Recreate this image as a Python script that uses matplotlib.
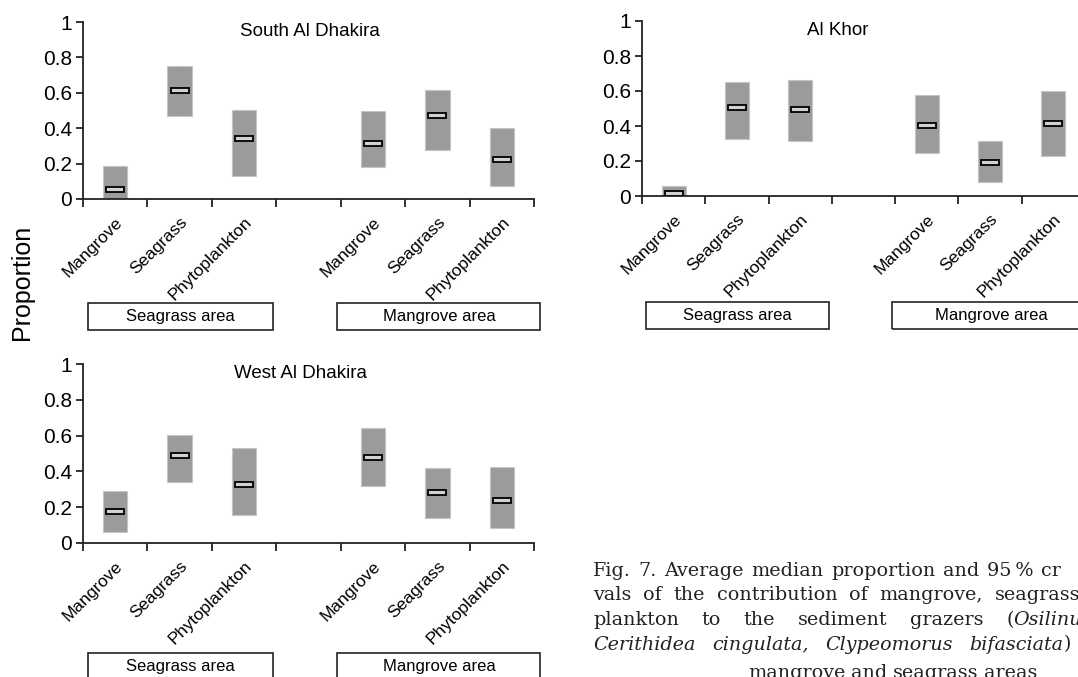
import matplotlib
matplotlib.use("Agg")
import matplotlib.pyplot as plt
import matplotlib.patches as patches
import matplotlib.transforms as mtransforms
import numpy as np

plt.rcParams["font.family"] = ["Liberation Sans", "DejaVu Sans"]

# sources of organic matter, grouped by the area the grazers were taken from
sources = ["Mangrove", "Seagrass", "Phytoplankton"]
areas = ["Seagrass area", "Mangrove area"]
sites = ["South Al Dhakira", "Al Khor", "West Al Dhakira"]

# order: seagrass area (mangrove, seagrass, phyto), mangrove area (same)
south_median = [0.053, 0.614, 0.341, 0.313, 0.473, 0.221]
south_low = [0.0, 0.467, 0.128, 0.180, 0.276, 0.071]
south_high = [0.184, 0.749, 0.501, 0.497, 0.617, 0.400]

khor_median = [0.015, 0.508, 0.492, 0.403, 0.190, 0.414]
khor_low = [0.0, 0.323, 0.312, 0.247, 0.080, 0.228]
khor_high = [0.059, 0.652, 0.663, 0.576, 0.316, 0.601]

west_median = [0.178, 0.488, 0.329, 0.480, 0.280, 0.237]
west_low = [0.064, 0.342, 0.157, 0.320, 0.138, 0.084]
west_high = [0.288, 0.604, 0.529, 0.643, 0.421, 0.424]

y_ticks = [0, 0.2, 0.4, 0.6, 0.8, 1.0]
y_labels = ["0", "0.2", "0.4", "0.6", "0.8", "1"]

W, H = 1078, 677
fig = plt.figure(figsize=(W / 100, H / 100), dpi=100)


def px_rect(left, top, right, bottom):
    return [left / W, 1 - bottom / H, (right - left) / W, (bottom - top) / H]


# slot 3 is left empty between the two areas
slots = [0.5, 1.5, 2.5, 4.5, 5.5, 6.5]
area_spans = [(0.07, 2.95), (3.95, 7.1)]

panels = [
    (sites[0], south_median, south_low, south_high, px_rect(83, 22, 534, 199), 0.503, -0.585),
    (sites[1], khor_median, khor_low, khor_high, px_rect(642, 21, 1085, 196), 0.442, -0.605),
    (sites[2], west_median, west_low, west_high, px_rect(83, 364, 534, 543), 0.483, -0.615),
]

for title, med, low, high, rect, title_x, box_top in panels:
    ax = fig.add_axes(rect)
    ax.set_xlim(0, 7)
    ax.set_ylim(0, 1)
    for side in ["top", "right"]:
        ax.spines[side].set_visible(False)
    for side in ["left", "bottom"]:
        ax.spines[side].set_linewidth(1.3)
        ax.spines[side].set_color("#222222")

    med = np.array(med)
    low = np.array(low)
    high = np.array(high)
    ax.bar(slots, high - low, bottom=low, width=0.38, color="#9b9b9b",
           edgecolor="#c4c4c4", linewidth=0.8, zorder=1)
    ax.bar(slots, 0.028, bottom=med - 0.014, width=0.28, color="#d2d2d2",
           edgecolor="black", linewidth=1.3, zorder=3)

    ax.set_xticks(np.arange(8))
    ax.set_xticklabels([])
    ax.tick_params(axis="x", which="major", length=6, width=1.3, color="#222222")
    ax.set_xticks(slots, minor=True)
    ax.set_xticklabels(sources * 2, minor=True, rotation=45, ha="right",
                       rotation_mode="anchor", fontsize=12.5)
    ax.tick_params(axis="x", which="minor", length=0, pad=11)

    ax.set_yticks(y_ticks)
    ax.set_yticklabels(y_labels, fontsize=15)
    ax.tick_params(axis="y", length=5, width=1.3, color="#222222", pad=3)

    ax.text(title_x, 0.995, title, transform=ax.transAxes, ha="center",
            va="top", fontsize=13.5)

    # area boxes under the category labels
    trans = ax.get_xaxis_transform()
    box_h = 0.155
    for (x0, x1), name in zip(area_spans, areas):
        ax.add_patch(patches.Rectangle((x0, box_top - box_h), x1 - x0, box_h,
                                       transform=trans, fill=False,
                                       edgecolor="#222222", linewidth=1.2,
                                       clip_on=False))
        ax.text((x0 + x1) / 2, box_top - box_h / 2, name, transform=trans,
                ha="center", va="center", fontsize=12, clip_on=False)

fig.text(22 / W, 1 - 282 / H, "Proportion", rotation=90, ha="center",
         va="center", fontsize=18)

# caption, justified word by word
renderer = fig.canvas.get_renderer()
px = mtransforms.IdentityTransform()
cap_font = dict(family=["DejaVu Serif"], fontsize=13.8, color="#222222")


def caption_line(words, baseline, x0, last_end=None, last_start=None):
    placed = []
    widths = []
    for word in words:
        parts = []
        w = 0.0
        for txt, style in word:
            t = fig.text(0, 0, txt, transform=px, va="baseline",
                         fontstyle=style, **cap_font)
            tw = t.get_window_extent(renderer).width
            parts.append((t, tw))
            w += tw
        placed.append(parts)
        widths.append(w)
    n = len(words)
    if last_end is not None:
        gap = (last_end - x0 - sum(widths)) / (n - 1)
    elif last_start is not None:
        gap = (last_start - x0 - sum(widths[:-1])) / (n - 1)
    else:
        gap = 5.5
    x = x0
    y = H - baseline
    for parts, w in zip(placed, widths):
        xx = x
        for t, tw in parts:
            t.set_position((xx, y))
            xx += tw
        x += w + gap


def plain(text):
    return [[(w, "normal")] for w in text.split(" ")]


caption_line(plain("Fig. 7. Average median proportion and 95\u2009% cr"), 576, 593,
             last_end=1061)
caption_line(plain("vals of the contribution of mangrove, seagrass"), 600.5, 593,
             last_end=1080)
caption_line(plain("plankton to the sediment grazers")
             + [[("(", "normal"), ("Osilinu", "italic")]], 625, 593,
             last_start=1006)
caption_line([[("Cerithidea", "italic")], [("cingulata,", "italic")],
              [("Clypeomorus", "italic")],
              [("bifasciata", "italic"), (")", "normal")]], 649.5, 593,
             last_end=1071)
caption_line(plain("mangrove and seagrass areas"), 678, 748)

fig.savefig("out.png", dpi=100)
